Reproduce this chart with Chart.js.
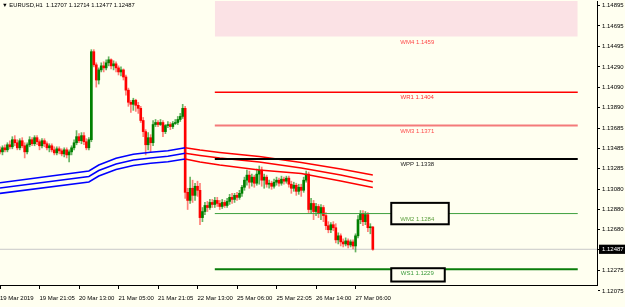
<!DOCTYPE html>
<html>
<head>
<meta charset="utf-8">
<script src="https://cdn.jsdelivr.net/npm/chart.js@4.4.1/dist/chart.umd.min.js"></script>
<style>
  html, body { margin: 0; padding: 0; background: #fffff0; }
  #wrap { position: relative; width: 625px; height: 307px; }
  #title { position: absolute; left: 2px; top: 2px; font: 5.8px "Liberation Sans", Arial, sans-serif; color: #000; white-space: pre; }
</style>
</head>
<body>
<div id="wrap">
  <canvas id="chart" width="625" height="307"></canvas>
  <div id="title">▼ EURUSD,H1  1.12707 1.12714 1.12477 1.12487</div>
</div>
<script>
// H1 candles, one per bar index
const opens = [
  1.1347,1.1345,1.1349,1.1347,1.1352,1.1350,1.1357,1.1354,1.1349,1.1356,
  1.1351,1.1345,1.1352,1.1357,1.1353,1.1359,1.1355,1.1351,1.1356,1.1353,
  1.1349,1.1351,1.1347,1.1344,1.1348,1.1346,1.1343,1.1347,1.1342,1.1345,
  1.1349,1.1354,1.1360,1.1356,1.1361,1.1355,1.1349,1.1357,1.1444,1.1431,
  1.1416,1.1426,1.1430,1.1428,1.1433,1.1436,1.1430,1.1432,1.1428,1.1424,
  1.1426,1.1419,1.1406,1.1394,1.1392,1.1396,1.1391,1.1388,1.1376,1.1365,
  1.1352,1.1359,1.1354,1.1372,1.1374,1.1372,1.1374,1.1365,1.1371,1.1372,
  1.1370,1.1373,1.1374,1.1377,1.1380,1.1388,1.1305,1.1297,1.1309,1.1302,
  1.1311,1.1307,1.1280,1.1286,1.1292,1.1290,1.1295,1.1293,1.1297,1.1294,
  1.1291,1.1295,1.1292,1.1296,1.1300,1.1298,1.1302,1.1300,1.1304,1.1310,
  1.1317,1.1322,1.1315,1.1320,1.1314,1.1323,1.1327,1.1317,1.1320,1.1313,
  1.1314,1.1311,1.1315,1.1317,1.1314,1.1318,1.1316,1.1319,1.1313,1.1309,
  1.1312,1.1306,1.1310,1.1307,1.1317,1.1323,1.1288,1.1294,1.1286,1.1291,
  1.1284,1.1290,1.1282,1.1272,1.1268,1.1273,1.1270,1.1258,1.1262,1.1256,
  1.1254,1.1257,1.1253,1.1256,1.1252,1.1262,1.1278,1.1284,1.1276,1.1283,
  1.1270,1.12707
];
const highs = [
  1.1350,1.1351,1.1352,1.1354,1.1356,1.1360,1.1361,1.1357,1.1358,1.1359,
  1.1354,1.1354,1.1360,1.1359,1.1361,1.1361,1.1357,1.1358,1.1358,1.1355,
  1.1353,1.1353,1.1350,1.1350,1.1350,1.1348,1.1349,1.1349,1.1347,1.1351,
  1.1357,1.1366,1.1363,1.1364,1.1364,1.1358,1.1359,1.1446,1.1446,1.1433,
  1.1428,1.1433,1.1434,1.1436,1.1439,1.1437,1.1435,1.1434,1.1430,1.1429,
  1.1427,1.1421,1.1408,1.1396,1.1398,1.1397,1.1394,1.1390,1.1379,1.1367,
  1.1364,1.1362,1.1376,1.1377,1.1376,1.1377,1.1376,1.1372,1.1375,1.1374,
  1.1375,1.1377,1.1380,1.1383,1.1392,1.1390,1.1309,1.1320,1.1317,1.1314,
  1.1316,1.1314,1.1290,1.1295,1.1296,1.1298,1.1298,1.1300,1.1300,1.1297,
  1.1298,1.1297,1.1299,1.1303,1.1304,1.1304,1.1305,1.1307,1.1312,1.1320,
  1.1327,1.1326,1.1323,1.1322,1.1328,1.1331,1.1330,1.1323,1.1322,1.1317,
  1.1316,1.1318,1.1320,1.1319,1.1321,1.1320,1.1321,1.1321,1.1316,1.1315,
  1.1314,1.1313,1.1313,1.1320,1.1326,1.1325,1.1299,1.1297,1.1294,1.1293,
  1.1293,1.1292,1.1285,1.1276,1.1275,1.1276,1.1274,1.1265,1.1264,1.1259,
  1.1260,1.1259,1.1258,1.1258,1.1264,1.1282,1.1287,1.1287,1.1286,1.1285,
  1.1274,1.12714
];
const lows = [
  1.1343,1.1342,1.1345,1.1345,1.1348,1.1348,1.1351,1.1347,1.1347,1.1349,
  1.1339,1.1343,1.1350,1.1351,1.1351,1.1352,1.1347,1.1349,1.1350,1.1347,
  1.1345,1.1345,1.1342,1.1342,1.1343,1.1341,1.1340,1.1339,1.1335,1.1342,
  1.1347,1.1352,1.1354,1.1353,1.1352,1.1347,1.1347,1.1355,1.1429,1.1409,
  1.1412,1.1424,1.1424,1.1426,1.1430,1.1427,1.1426,1.1424,1.1421,1.1420,
  1.1416,1.1401,1.1390,1.1384,1.1386,1.1385,1.1383,1.1374,1.1360,1.1342,
  1.1347,1.1345,1.1351,1.1370,1.1370,1.1371,1.1360,1.1363,1.1369,1.1367,
  1.1368,1.1372,1.1372,1.1375,1.1378,1.1299,1.1288,1.1294,1.1295,1.1297,
  1.1301,1.1273,1.1276,1.1283,1.1286,1.1288,1.1290,1.1290,1.1291,1.1288,
  1.1289,1.1290,1.1290,1.1293,1.1294,1.1295,1.1297,1.1298,1.1301,1.1307,
  1.1312,1.1309,1.1311,1.1310,1.1312,1.1313,1.1311,1.1309,1.1310,1.1309,
  1.1308,1.1309,1.1312,1.1311,1.1312,1.1313,1.1314,1.1310,1.1304,1.1306,
  1.1302,1.1303,1.1301,1.1305,1.1315,1.1285,1.1284,1.1278,1.1282,1.1280,
  1.1278,1.1276,1.1268,1.1265,1.1265,1.1267,1.1255,1.1254,1.1252,1.1251,
  1.1252,1.1250,1.1251,1.1249,1.1246,1.1260,1.1274,1.1272,1.1273,1.1266,
  1.1264,1.12477
];
const closes = [
  1.1345,1.1349,1.1347,1.1352,1.1350,1.1357,1.1354,1.1349,1.1356,1.1351,
  1.1345,1.1352,1.1357,1.1353,1.1359,1.1355,1.1351,1.1356,1.1353,1.1349,
  1.1351,1.1347,1.1344,1.1348,1.1346,1.1343,1.1347,1.1342,1.1345,1.1349,
  1.1354,1.1360,1.1356,1.1361,1.1355,1.1349,1.1357,1.1444,1.1431,1.1416,
  1.1426,1.1430,1.1428,1.1433,1.1436,1.1430,1.1432,1.1428,1.1424,1.1426,
  1.1419,1.1406,1.1394,1.1392,1.1396,1.1391,1.1388,1.1376,1.1365,1.1352,
  1.1359,1.1354,1.1372,1.1374,1.1372,1.1374,1.1365,1.1371,1.1372,1.1370,
  1.1373,1.1374,1.1377,1.1380,1.1388,1.1305,1.1297,1.1309,1.1302,1.1311,
  1.1307,1.1280,1.1286,1.1292,1.1290,1.1295,1.1293,1.1297,1.1294,1.1291,
  1.1295,1.1292,1.1296,1.1300,1.1298,1.1302,1.1300,1.1304,1.1310,1.1317,
  1.1322,1.1315,1.1320,1.1314,1.1323,1.1327,1.1317,1.1320,1.1313,1.1314,
  1.1311,1.1315,1.1317,1.1314,1.1318,1.1316,1.1319,1.1313,1.1309,1.1312,
  1.1306,1.1310,1.1307,1.1317,1.1323,1.1288,1.1294,1.1286,1.1291,1.1284,
  1.1290,1.1282,1.1272,1.1268,1.1273,1.1270,1.1258,1.1262,1.1256,1.1254,
  1.1257,1.1253,1.1256,1.1252,1.1262,1.1278,1.1284,1.1276,1.1283,1.1270,
  1.12707,1.12487
];
const lastPrice = 1.12487;

// time axis labels (every 16 bars)
const xTickPos = [0, 16, 32, 48, 64, 80, 96, 112, 128, 144];
const xTickLabels = ['19 Mar 2019', '19 Mar 21:05', '20 Mar 13:00', '21 Mar 05:00', '21 Mar 21:05',
  '22 Mar 13:00', '25 Mar 06:00', '25 Mar 22:05', '26 Mar 14:00', '27 Mar 06:00'];

// price axis labels
const yTicks = [1.12075, 1.12275, 1.12487, 1.12680, 1.12880, 1.13080, 1.13285, 1.13485,
  1.13685, 1.13890, 1.14090, 1.14290, 1.14495, 1.14695, 1.14895];

// moving average envelope, blue while rising, red while falling
const blueIdx   = [0, 36, 40, 47, 54, 61, 68, 75];
const blueUpper = [1.13145, 1.13261, 1.13320, 1.13386, 1.13426, 1.13446, 1.13461, 1.13491];
const blueMid   = [1.13093, 1.13207, 1.13266, 1.13330, 1.13370, 1.13389, 1.13406, 1.13436];
const blueLower = [1.13040, 1.13152, 1.13211, 1.13276, 1.13315, 1.13337, 1.13352, 1.13379];
const redIdx    = [75, 81, 89, 105, 122, 138, 151];
const redUpper  = [1.13491, 1.13468, 1.13444, 1.13404, 1.13345, 1.13281, 1.13221];
const redMid    = [1.13436, 1.13414, 1.13389, 1.13350, 1.13290, 1.13221, 1.13155];
const redLower  = [1.13379, 1.13350, 1.13320, 1.13271, 1.13236, 1.13162, 1.13098];

// weekly pivots
const pivotNames  = ['WM4', 'WR1', 'WM3', 'WPP', 'WM2', 'WS1'];
const pivotValues = [1.1459, 1.1404, 1.1371, 1.1338, 1.1284, 1.1229];
const pivotFrom = 87, pivotTo = 234;

const lineColors  = [null, '#ff0000', '#f47a7a', '#000000', '#3ea03e', '#0a7d0a'];
const lineWidths  = [0, 1.5, 2, 2, 1, 2];
const textColors  = ['#ff4a4a', '#ff3030', '#ff4a4a', '#222222', '#5a9e3c', '#3a9a3a'];

const X_MAX = 241.8;
const Y_MIN = 1.12134, Y_MAX = 1.14941;
const FONT = '"Liberation Sans", Arial, sans-serif';

const idx = closes.map((_, i) => i);
const bull = idx.map(i => closes[i] >= opens[i]);

const line = (xs, ys, color, width, order) => ({
  type: 'line',
  data: xs.map((x, i) => ({ x: x, y: ys[i] })),
  borderColor: color,
  borderWidth: width,
  pointRadius: 0,
  tension: 0,
  fill: false,
  order: order
});

const datasets = [];

// WM4 zone
datasets.push({
  type: 'line',
  data: [{ x: pivotFrom, y: Y_MAX }, { x: pivotTo, y: Y_MAX }],
  borderWidth: 0,
  borderColor: 'rgba(0,0,0,0)',
  backgroundColor: 'rgb(251,226,229)',
  pointRadius: 0,
  fill: { value: pivotValues[0] },
  order: 9
});

// bid line
datasets.push(line([0, X_MAX], [lastPrice, lastPrice], '#c8c8c8', 1, 8));

// candles: wicks then bodies
datasets.push({
  type: 'bar',
  data: idx.map(i => ({ x: i, y: [lows[i], highs[i]] })),
  backgroundColor: idx.map(i => bull[i] ? 'rgba(0,128,0,0.6)' : 'rgba(255,0,0,0.5)'),
  barThickness: 1,
  grouped: false,
  order: 4
});
datasets.push({
  type: 'bar',
  data: idx.map(i => ({ x: i, y: [opens[i], closes[i]] })),
  backgroundColor: idx.map(i => bull[i] ? '#008000' : '#ff0000'),
  barThickness: 2,
  minBarLength: 1,
  grouped: false,
  order: 3
});

// envelope
datasets.push(line(blueIdx, blueUpper, '#0000ff', 1.6, 2));
datasets.push(line(blueIdx, blueMid, '#0000ff', 1.6, 2));
datasets.push(line(blueIdx, blueLower, '#0000ff', 1.6, 2));
datasets.push(line(redIdx, redUpper, '#ff0000', 1.4, 2));
datasets.push(line(redIdx, redMid, '#ff0000', 1.4, 2));
datasets.push(line(redIdx, redLower, '#ff0000', 1.4, 2));

// pivot lines
pivotValues.forEach((v, i) => {
  if (!lineColors[i]) return;
  datasets.push(line([pivotFrom, pivotTo], [v, v], lineColors[i], lineWidths[i], 1));
});

const background = {
  id: 'background',
  beforeDraw(chart) {
    const ctx = chart.ctx;
    ctx.save();
    ctx.fillStyle = '#fffff0';
    ctx.fillRect(0, 0, chart.width, chart.height);
    ctx.restore();
  }
};

// pivot text labels, two of them framed
const boxes = {
  WM2: { dx: -26, w: 57.5, dy: -10.7, h: 21.4 },
  WS1: { dx: -26, w: 53.5, dy: -1, h: 13.3 }
};
const pivotLabels = {
  id: 'pivotLabels',
  afterDatasetsDraw(chart) {
    const { ctx, scales: { x, y } } = chart;
    const cx = x.getPixelForValue(169);
    ctx.save();
    ctx.font = '6px ' + FONT;
    ctx.textAlign = 'center';
    ctx.textBaseline = 'alphabetic';
    pivotNames.forEach((name, i) => {
      const py = y.getPixelForValue(pivotValues[i]);
      const b = boxes[name];
      if (b) {
        ctx.fillStyle = '#fffff0';
        ctx.fillRect(cx + b.dx, py + b.dy, b.w, b.h);
        ctx.lineWidth = 2;
        ctx.strokeStyle = '#000';
        ctx.strokeRect(cx + b.dx, py + b.dy, b.w, b.h);
      }
      ctx.fillStyle = textColors[i];
      ctx.fillText(name + ' ' + pivotValues[i].toFixed(4), cx, py + (name === 'WS1' ? 5.8 : 7.3));
    });
    ctx.restore();
  }
};

new Chart(document.getElementById('chart'), {
  type: 'bar',
  data: { datasets: datasets },
  plugins: [background, pivotLabels],
  options: {
    responsive: false,
    animation: false,
    devicePixelRatio: 1,
    layout: { autoPadding: false, padding: { top: 1, left: 0, right: 0, bottom: 0 } },
    plugins: { legend: { display: false }, tooltip: { enabled: false }, title: { display: false } },
    scales: {
      x: {
        type: 'linear',
        min: 0,
        max: X_MAX,
        offset: false,
        afterBuildTicks: s => { s.ticks = xTickPos.map(v => ({ value: v })); },
        afterFit: s => { s.height = 22; s.paddingLeft = 0; s.paddingRight = 0; },
        ticks: {
          autoSkip: false,
          maxRotation: 0,
          align: 'start',
          padding: 6,
          color: '#000',
          font: { family: FONT, size: 6 },
          callback: (v, i) => xTickLabels[i]
        },
        grid: { drawOnChartArea: false, offset: false, tickLength: 4, color: '#000' },
        border: { color: '#000', width: 1 }
      },
      y: {
        position: 'right',
        min: Y_MIN,
        max: Y_MAX,
        afterBuildTicks: s => { s.ticks = yTicks.map(v => ({ value: v })); },
        afterFit: s => { s.width = 28; s.paddingTop = 0; s.paddingBottom = 0; },
        ticks: {
          autoSkip: false,
          padding: 2,
          font: { family: FONT, size: 6 },
          color: c => c.tick && c.tick.value === lastPrice ? '#fff' : '#000',
          showLabelBackdrop: c => !!(c.tick && c.tick.value === lastPrice),
          backdropColor: '#000',
          backdropPadding: { left: 3, right: 3, top: 1, bottom: 1 },
          callback: v => Number(v).toFixed(5)
        },
        grid: { drawOnChartArea: false, tickLength: 3, color: '#000' },
        border: { color: '#000', width: 1 }
      }
    }
  }
});
</script>
</body>
</html>
